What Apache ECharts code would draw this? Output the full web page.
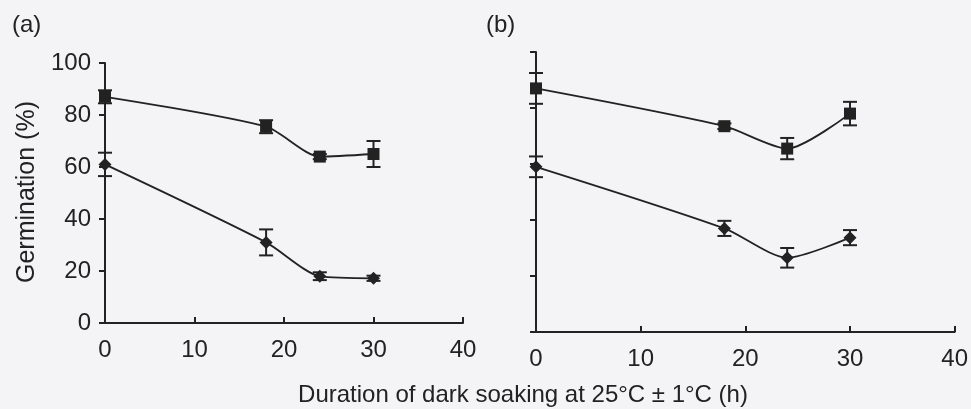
<!DOCTYPE html>
<html lang="en">
<head>
    <meta charset="utf-8">
    <title>Germination</title>
    <script src="https://cdn.jsdelivr.net/npm/echarts@6/dist/echarts.min.js"></script>
    <style>
        html, body { margin: 0; padding: 0; background: #f4f4f6; }
        #main { width: 971px; height: 409px; }
    </style>
</head>
<body>
<div id="main"></div>
<script type="text/javascript">
    // soaking duration (h)
    var hours = [0, 18, 24, 30];
    var xTicks = [0, 10, 20, 30, 40];
    var yTicks = [0, 20, 40, 60, 80, 100];

    // panel (a)
    var aSquare = [87, 75.5, 64, 65];
    var aSquareErr = [2.5, 2.5, 1, 5];
    var aDiamond = [61, 31, 18, 17.2];
    var aDiamondErr = [4.5, 5, 1.5, 1];

    // panel (b)
    var bSquare = [87, 73.5, 65.5, 78];
    var bSquareErr = [5.5, 1, 3.8, 4.2];
    var bDiamond = [59, 37, 26.5, 33.7];
    var bDiamondErr = [3.7, 2.7, 3.5, 2.7];

    var ink = '#222';
    var font = '"Liberation Sans", Arial, sans-serif';

    function pts(vals) {
        return hours.map(function (h, i) { return [h, vals[i]]; });
    }
    function errs(vals, e) {
        return hours.map(function (h, i) { return [h, vals[i] - e[i], vals[i] + e[i]]; });
    }

    function errBar(params, api) {
        var lo = api.coord([api.value(0), api.value(1)]);
        var hi = api.coord([api.value(0), api.value(2)]);
        var w = 7;
        var st = { stroke: ink, lineWidth: 2 };
        return {
            type: 'group',
            children: [
                { type: 'line', shape: { x1: lo[0], y1: lo[1], x2: hi[0], y2: hi[1] }, style: st },
                { type: 'line', shape: { x1: lo[0] - w, y1: lo[1], x2: lo[0] + w, y2: lo[1] }, style: st },
                { type: 'line', shape: { x1: hi[0] - w, y1: hi[1], x2: hi[0] + w, y2: hi[1] }, style: st }
            ]
        };
    }

    function lineSeries(idx, vals, sym, size) {
        return {
            type: 'line',
            xAxisIndex: idx, yAxisIndex: idx,
            data: pts(vals),
            smooth: 0.25,
            symbol: sym,
            symbolSize: size,
            showAllSymbol: true,
            lineStyle: { color: ink, width: 1.8 },
            itemStyle: { color: ink },
            z: 3
        };
    }

    function errSeries(idx, vals, e) {
        return {
            type: 'custom',
            xAxisIndex: idx, yAxisIndex: idx,
            data: errs(vals, e),
            renderItem: errBar,
            z: 2
        };
    }

    function xAx(idx) {
        return {
            gridIndex: idx,
            type: 'value',
            min: 0, max: 40, interval: 10,
            axisLine: { lineStyle: { color: ink, width: 2 } },
            axisTick: { inside: true, length: 6, lineStyle: { color: ink, width: 2 } },
            axisLabel: { color: ink, fontSize: 24, fontFamily: font, margin: 15 },
            splitLine: { show: false }
        };
    }

    function yAx(idx, labels) {
        return {
            gridIndex: idx,
            type: 'value',
            min: 0, max: 100, interval: 20,
            axisLine: { show: true, lineStyle: { color: ink, width: 2 } },
            axisTick: { show: true, length: 6, lineStyle: { color: ink, width: 2 } },
            axisLabel: { show: labels, color: ink, fontSize: 24, fontFamily: font, margin: 14 },
            splitLine: { show: false }
        };
    }

    var myChart = echarts.init(document.getElementById('main'));
    var option = {
        backgroundColor: '#f4f4f6',
        animation: false,
        title: [
            { text: '(a)', left: 7, top: 8, textStyle: { color: ink, fontSize: 24, fontWeight: 'normal', fontFamily: font } },
            { text: '(b)', left: 481, top: 8, textStyle: { color: ink, fontSize: 24, fontWeight: 'normal', fontFamily: font } }
        ],
        grid: [
            { left: 105, right: 508, top: 63, bottom: 86 },
            { left: 536, right: 15, top: 52, bottom: 77 }
        ],
        xAxis: [xAx(0), xAx(1)],
        yAxis: [yAx(0, true), yAx(1, false)],
        graphic: [
            {
                type: 'text',
                rotation: Math.PI / 2,
                x: 27, y: 192,
                style: { text: 'Germination (%)', fill: ink, fontSize: 25, fontFamily: font, textAlign: 'center', textVerticalAlign: 'middle' }
            },
            {
                type: 'text', x: 523, y: 395,
                style: { text: 'Duration of dark soaking at 25°C ± 1°C (h)', fill: ink, fontSize: 24, fontFamily: font, textAlign: 'center', textVerticalAlign: 'middle' }
            }
        ],
        series: [
            errSeries(0, aSquare, aSquareErr),
            errSeries(0, aDiamond, aDiamondErr),
            lineSeries(0, aSquare, 'rect', 12),
            lineSeries(0, aDiamond, 'diamond', 13),
            errSeries(1, bSquare, bSquareErr),
            errSeries(1, bDiamond, bDiamondErr),
            lineSeries(1, bSquare, 'rect', 12),
            lineSeries(1, bDiamond, 'diamond', 13)
        ]
    };
    myChart.setOption(option);
</script>
</body>
</html>
